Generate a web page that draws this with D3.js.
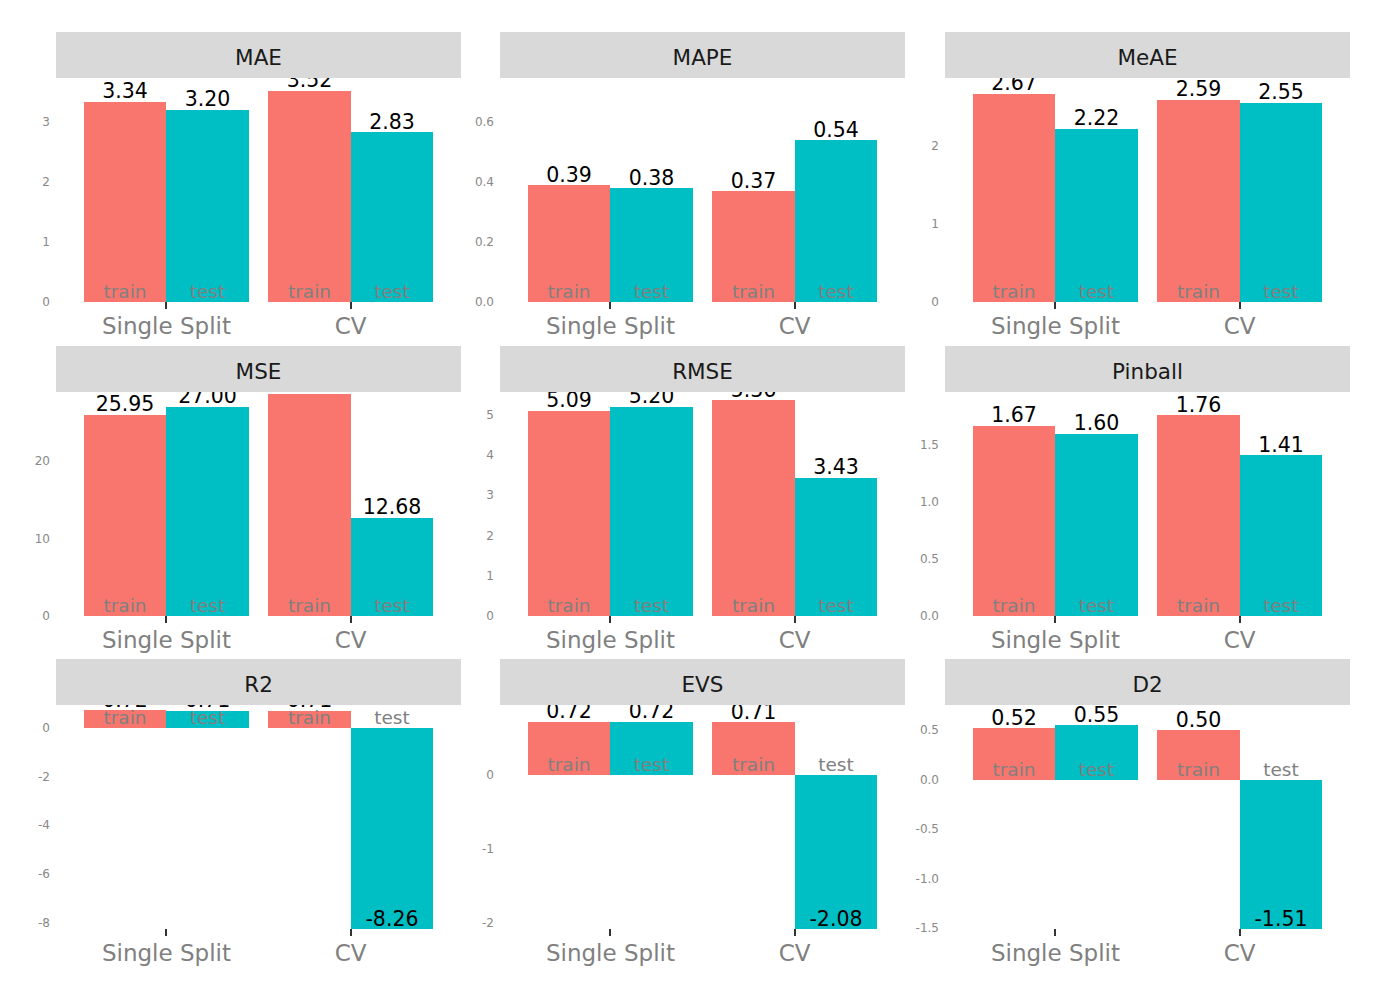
<!DOCTYPE html>
<html lang="en">
  <head>
    <meta charset="UTF-8" />
    <title>Metrics</title>
    <style>
      body {
        margin: 0;
        background: #fff;
      }
      svg {
        display: block;
        font-family: "DejaVu Sans", sans-serif;
      }
    </style>
  </head>
  <body>
    <svg width="1382" height="998" id="chart"></svg>

    <script src="https://d3js.org/d3.v7.min.js"></script>
    <script>
      var metrics = ["MAE", "MAPE", "MeAE", "MSE", "RMSE", "Pinball", "R2", "EVS", "D2"];
      var splits = ["Single Split", "CV"];
      var sets = ["train", "test"];

      // values per metric, same order as metrics
      var singleTrain = [3.34, 0.39, 2.67, 25.95, 5.09, 1.67, 0.72, 0.72, 0.52];
      var singleTest = [3.2, 0.38, 2.22, 27.0, 5.2, 1.6, 0.71, 0.72, 0.55];
      var cvTrain = [3.52, 0.37, 2.59, 28.7, 5.36, 1.76, 0.71, 0.71, 0.5];
      var cvTest = [2.83, 0.54, 2.55, 12.68, 3.43, 1.41, -8.26, -2.08, -1.51];

      var yDomains = [
        [0, 3.733], [0, 0.747], [0, 2.87],
        [0, 28.9], [0, 5.56], [0, 1.965],
        [-8.26, 0.94], [-2.08, 0.946], [-1.51, 0.754]
      ];
      var yTicks = [
        [0, 1, 2, 3], [0, 0.2, 0.4, 0.6], [0, 1, 2],
        [0, 10, 20], [0, 1, 2, 3, 4, 5], [0, 0.5, 1, 1.5],
        [-8, -6, -4, -2, 0], [-2, -1, 0], [-1.5, -1, -0.5, 0, 0.5]
      ];
      var yTickLabels = [
        ["0", "1", "2", "3"], ["0.0", "0.2", "0.4", "0.6"], ["0", "1", "2"],
        ["0", "10", "20"], ["0", "1", "2", "3", "4", "5"], ["0.0", "0.5", "1.0", "1.5"],
        ["-8", "-6", "-4", "-2", "0"], ["-2", "-1", "0"], ["-1.5", "-1.0", "-0.5", "0.0", "0.5"]
      ];

      var colors = { train: "#F8766D", test: "#00BFC4" };

      var colX = [56, 500, 945];
      var stripTop = [32, 346, 659];
      var panelW = 405, stripH = 46, panelH = 224;

      var svg = d3.select("#chart");
      var panels = svg.append("g");
      var strips = svg.append("g");

      metrics.forEach(function (m, i) {
        var x0 = colX[i % 3];
        var top = stripTop[Math.floor(i / 3)] + stripH;

        var data = [
          { split: splits[0], set: "train", value: singleTrain[i] },
          { split: splits[0], set: "test", value: singleTest[i] },
          { split: splits[1], set: "train", value: cvTrain[i] },
          { split: splits[1], set: "test", value: cvTest[i] }
        ];

        // discrete scale expanded by 0.6 on each side, bars 0.9 wide dodged
        var step = panelW / 2.2;
        var x = d3.scalePoint().domain(splits).range([x0 + 0.6 * step, x0 + 1.6 * step]);
        var xs = d3.scaleBand().domain(sets).range([-0.45 * step, 0.45 * step]);
        var y = d3.scaleLinear().domain(yDomains[i]).range([top + panelH, top]);

        function left(d) { return Math.round(x(d.split) + xs(d.set)); }
        function right(d) { return Math.round(x(d.split) + xs(d.set) + xs.bandwidth()); }

        var g = panels.append("g");

        g.selectAll("rect")
          .data(data)
          .join("rect")
          .attr("x", left)
          .attr("width", function (d) { return right(d) - left(d); })
          .attr("y", function (d) { return Math.round(Math.min(y(d.value), y(0))); })
          .attr("height", function (d) {
            return Math.round(Math.max(y(d.value), y(0))) - Math.round(Math.min(y(d.value), y(0)));
          })
          .attr("shape-rendering", "crispEdges")
          .attr("fill", function (d) { return colors[d.set]; });

        // set names at zero
        g.selectAll("text.set")
          .data(data)
          .join("text")
          .attr("class", "set")
          .attr("x", function (d) { return (left(d) + right(d)) / 2; })
          .attr("y", y(0) - 4)
          .attr("text-anchor", "middle")
          .attr("font-size", 18.5)
          .attr("fill", "#808080")
          .text(function (d) { return d.set; });

        // values
        g.selectAll("text.val")
          .data(data)
          .join("text")
          .attr("class", "val")
          .attr("x", function (d) { return (left(d) + right(d)) / 2; })
          .attr("y", function (d) { return y(d.value) - 3.5; })
          .attr("text-anchor", "middle")
          .attr("font-size", 20.5)
          .attr("fill", "#000")
          .text(function (d) { return d.value.toFixed(2); });

        // y tick labels
        g.selectAll("text.yt")
          .data(yTicks[i])
          .join("text")
          .attr("class", "yt")
          .attr("x", x0 - 6)
          .attr("y", function (d) { return y(d); })
          .attr("dy", "0.35em")
          .attr("text-anchor", "end")
          .attr("font-size", 12)
          .attr("fill", "#888")
          .text(function (d, k) { return yTickLabels[i][k]; });

        // x ticks and labels
        var bottom = top + panelH;
        g.selectAll("line.xt")
          .data(splits)
          .join("line")
          .attr("class", "xt")
          .attr("x1", function (d) { return Math.round(x(d)); })
          .attr("x2", function (d) { return Math.round(x(d)); })
          .attr("y1", bottom)
          .attr("y2", bottom + 7)
          .attr("stroke", "#333")
          .attr("stroke-width", 2);

        g.selectAll("text.xl")
          .data(splits)
          .join("text")
          .attr("class", "xl")
          .attr("x", function (d) { return x(d); })
          .attr("y", bottom + 32)
          .attr("text-anchor", "middle")
          .attr("font-size", 23)
          .attr("fill", "#808080")
          .text(function (d) { return d; });

        // facet strip
        var st = strips.append("g");
        st.append("rect")
          .attr("x", x0)
          .attr("y", top - stripH)
          .attr("width", panelW)
          .attr("height", stripH)
          .attr("fill", "#d9d9d9");
        st.append("text")
          .attr("x", x0 + panelW / 2)
          .attr("y", top - stripH / 2 + 2)
          .attr("dy", "0.35em")
          .attr("text-anchor", "middle")
          .attr("font-size", 21.5)
          .attr("fill", "#1a1a1a")
          .text(m);
      });
    </script>
  </body>
</html>
